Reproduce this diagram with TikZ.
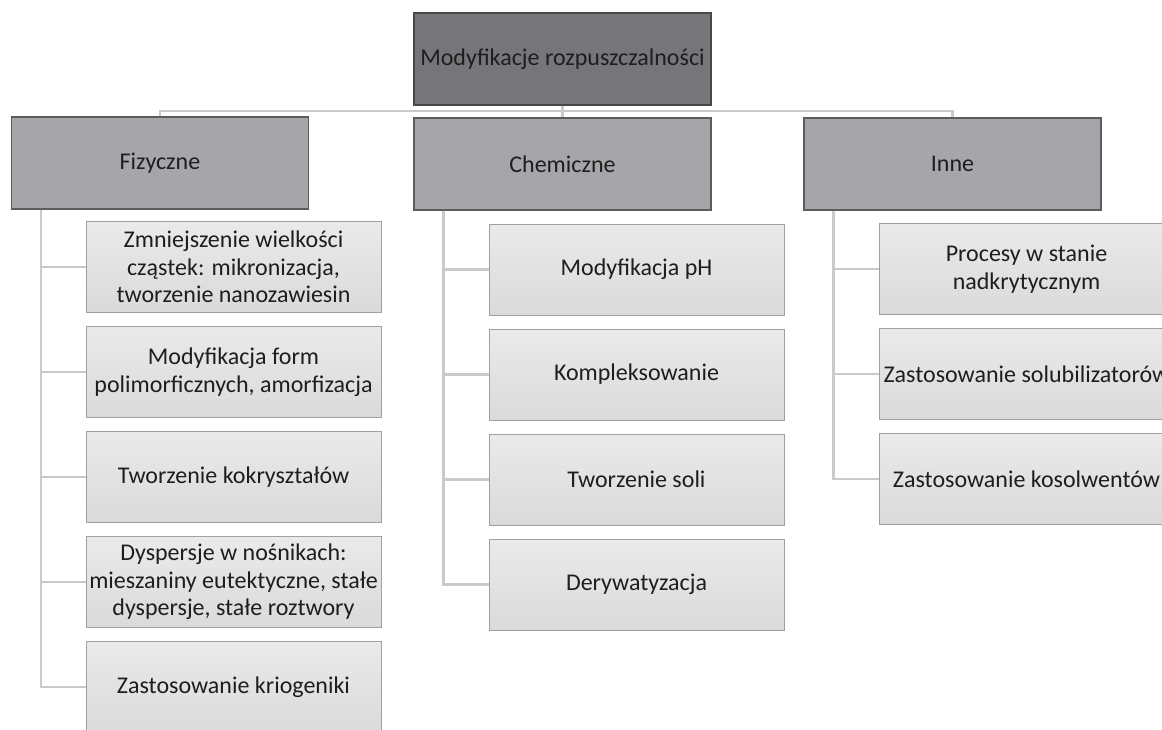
\documentclass[tikz,border=0pt]{standalone}
\usepackage{fontspec}
\setmainfont{Carlito}
\definecolor{topfill}{HTML}{767579}
\definecolor{topline}{HTML}{48484A}
\definecolor{grpfill}{HTML}{A6A5A9}
\definecolor{grpline}{HTML}{5C5C5E}
\definecolor{itemtop}{HTML}{EAEAEB}
\definecolor{itembot}{HTML}{DADADB}
\definecolor{itemline}{HTML}{A0A0A2}
\definecolor{linkgray}{HTML}{CACACA}
\definecolor{txtgray}{HTML}{1E1E1E}

\begin{document}
\begin{tikzpicture}[x=1pt, y=-1pt,
    every node/.style={font=\fontsize{24}{27.5}\selectfont, align=center, text=txtgray, inner sep=0pt},
    topbox/.style={draw=topline, line width=1.2pt, fill=topfill, minimum width=297pt, minimum height=92pt},
    groupbox/.style={draw=grpline, line width=1.2pt, fill=grpfill, minimum width=297pt, minimum height=92pt},
    itembox/.style={draw=itemline, line width=1pt, top color=itemtop, bottom color=itembot, minimum width=295pt, minimum height=91pt},
    link/.style={draw=linkgray, line width=2.6pt}]
  \useasboundingbox (0,0) rectangle (1162,729);
  \clip (0,0) rectangle (1162,729);
  % --- upper levels ---
  \node[topbox] (root) at (562.5,59) {Modyfikacje rozpuszczalności};
  \node[groupbox] (fiz) at (160,163) {Fizyczne};
  \node[groupbox] (chem) at (562.5,164) {Chemiczne};
  \node[groupbox] (inne) at (952.5,164) {Inne};
  \coordinate (bus) at (562.5,111);
  \draw[link] (root.south) -- (bus) -| (fiz.north);
  \draw[link] (bus) -| (inne.north);
  \draw[link] (bus) -- (chem.north);
  % --- Fizyczne ---
  \foreach \n/\y/\txt in {1/267/{Zmniejszenie wielkości\\cząstek: mikronizacja,\\tworzenie nanozawiesin},
      2/372/{Modyfikacja form\\polimorficznych, amorfizacja},
      3/477/{Tworzenie kokryształów},
      4/582/{Dyspersje w nośnikach:\\mieszaniny eutektyczne, stałe\\dyspersje, stałe roztwory},
      5/687/{Zastosowanie kriogeniki}}{
    \node[itembox] (fiz\n) at (233.5,\y) {\txt};
    \draw[link] ([xshift=30pt]fiz.south west) |- (fiz\n.west);
  }
  % --- Chemiczne ---
  \foreach \n/\y/\txt in {1/269.5/{Modyfikacja pH},
      2/374.5/{Kompleksowanie},
      3/479.5/{Tworzenie soli},
      4/584.5/{Derywatyzacja}}{
    \node[itembox] (chem\n) at (636.5,\y) {\txt};
    \draw[link] ([xshift=30pt]chem.south west) |- (chem\n.west);
  }
  % --- Inne ---
  \foreach \n/\y/\txt in {1/269/{Procesy w stanie\\nadkrytycznym},
      2/374/{Zastosowanie solubilizatorów},
      3/479/{Zastosowanie kosolwentów}}{
    \node[itembox] (inne\n) at (1026.5,\y) {\txt};
    \draw[link] ([xshift=30pt]inne.south west) |- (inne\n.west);
  }
\end{tikzpicture}
\end{document}
